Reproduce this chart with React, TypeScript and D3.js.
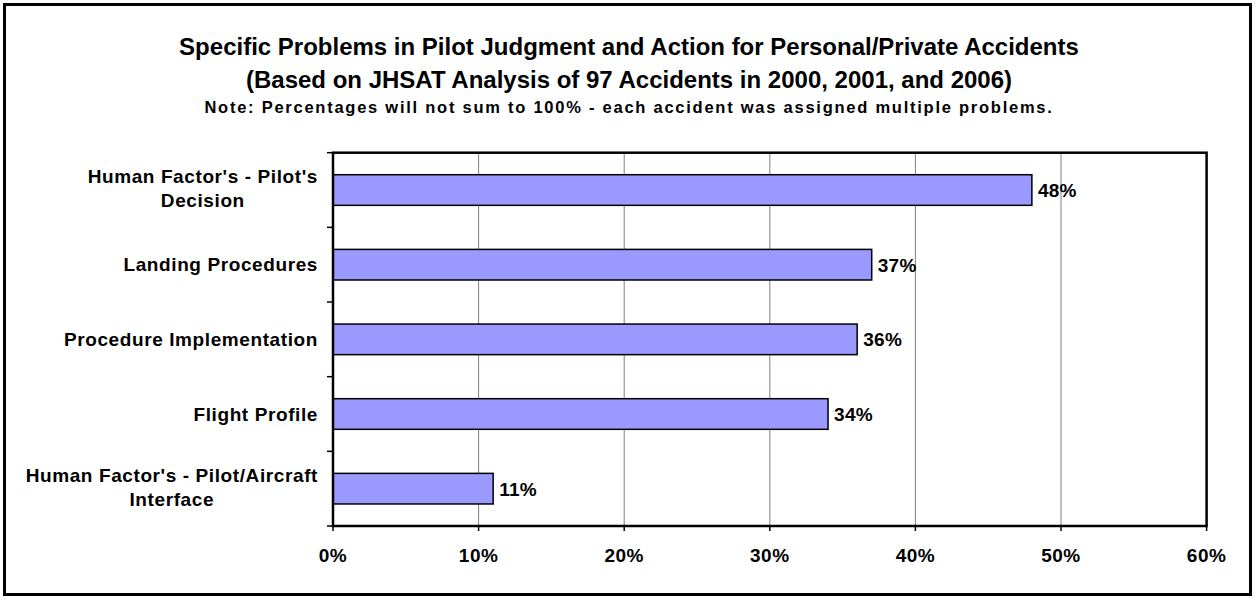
import React, { useLayoutEffect, useRef, useState } from "react";
import * as d3 from "d3";

const categories: string[][] = [
  ["Human Factor's - Pilot's", "Decision"],
  ["Landing Procedures"],
  ["Procedure Implementation"],
  ["Flight Profile"],
  ["Human Factor's - Pilot/Aircraft", "Interface"],
];
const values: number[] = [0.48, 0.37, 0.36, 0.34, 0.11];
const xTicks: number[] = [0, 0.1, 0.2, 0.3, 0.4, 0.5, 0.6];
const titleLines: string[] = [
  "Specific Problems in Pilot Judgment and Action for Personal/Private Accidents",
  "(Based on JHSAT Analysis of 97 Accidents in 2000, 2001, and 2006)",
];
const note = "Note: Percentages will not sum to 100% - each accident was assigned multiple problems.";

const W = 1255;
const H = 598;
const FONT = "'Liberation Sans', Arial, sans-serif";

export default function App() {
  const left = 333;
  const right = 1206.6;
  const top = 152.7;
  const bottom = 526;
  const x = d3.scaleLinear().domain([0, 0.6]).range([left, right]);
  const y = d3
    .scaleBand<number>()
    .domain(categories.map((_, i) => i))
    .range([top, bottom])
    .paddingInner(0.59)
    .paddingOuter(0.295);
  const band = (bottom - top) / categories.length;
  const fmt = d3.format(".0%");
  const labelRight = 318;

  const firstLineRefs = useRef<(SVGTextElement | null)[]>([]);
  const [widths, setWidths] = useState<number[]>(categories.map(() => 0));
  useLayoutEffect(() => {
    const w = firstLineRefs.current.map((el) => (el ? el.getBBox().width : 0));
    setWidths(w);
  }, []);

  return (
    <svg
      width={W}
      height={H}
      style={{ position: "absolute", left: 0, top: 0, display: "block" }}
      fontFamily={FONT}
      fontWeight="bold"
    >
      <rect x={0} y={0} width={W} height={H} fill="#fff" />
      <rect x={4.5} y={4.5} width={1246} height={590} fill="none" stroke="#000" strokeWidth={3} />

      {titleLines.map((t, i) => (
        <text key={i} x={629} y={55 + i * 33} textAnchor="middle" fontSize={24} fill="#000">
          {t}
        </text>
      ))}
      <text x={629} y={112.7} textAnchor="middle" fontSize={16.5} letterSpacing={1.75} fill="#000">
        {note}
      </text>

      {/* gridlines */}
      {xTicks.slice(1, -1).map((t) => (
        <line key={t} x1={x(t)} x2={x(t)} y1={top} y2={bottom} stroke="#808080" strokeWidth={1} />
      ))}

      {/* bars */}
      {values.map((v, i) => (
        <rect
          key={i}
          x={x(0)}
          y={y(i)}
          width={x(v) - x(0)}
          height={y.bandwidth()}
          fill="#9999FF"
          stroke="#000"
          strokeWidth={1.5}
        />
      ))}

      {/* plot border */}
      <rect x={left} y={top} width={right - left} height={bottom - top} fill="none" stroke="#000" strokeWidth={2.5} />

      {/* y ticks */}
      {d3.range(categories.length + 1).map((i) => (
        <line key={i} x1={left - 6} x2={left} y1={top + i * band} y2={top + i * band} stroke="#000" strokeWidth={1.5} />
      ))}
      {/* x ticks */}
      {xTicks.map((t) => (
        <line key={t} x1={x(t)} x2={x(t)} y1={bottom} y2={bottom + 5} stroke="#000" strokeWidth={1.5} />
      ))}
      {xTicks.map((t) => (
        <text key={t} x={x(t)} y={561.5} textAnchor="middle" fontSize={19} letterSpacing={0.5} fill="#000">
          {fmt(t)}
        </text>
      ))}

      {/* category labels */}
      {categories.map((lines, i) => {
        const cy = (y(i) as number) + y.bandwidth() / 2;
        const lh = 24.3;
        if (lines.length === 1) {
          return (
            <text
              key={i}
              ref={(el) => {
                firstLineRefs.current[i] = el;
              }}
              x={labelRight}
              y={cy + 6.7}
              textAnchor="end"
              fontSize={19}
              letterSpacing={0.6}
              fill="#000"
            >
              {lines[0]}
            </text>
          );
        }
        const w = widths[i];
        return (
          <g key={i}>
            <text
              ref={(el) => {
                firstLineRefs.current[i] = el;
              }}
              x={labelRight}
              y={cy + 5.2 - lh / 2}
              textAnchor="end"
              fontSize={19}
              letterSpacing={0.6}
              fill="#000"
            >
              {lines[0]}
            </text>
            <text
              x={labelRight - w / 2}
              y={cy + 5.2 + lh / 2}
              textAnchor="middle"
              fontSize={19}
              letterSpacing={0.6}
              fill="#000"
            >
              {lines[1]}
            </text>
          </g>
        );
      })}

      {/* value labels */}
      {values.map((v, i) => (
        <text
          key={i}
          x={x(v) + 6}
          y={(y(i) as number) + y.bandwidth() / 2 + 7}
          fontSize={19}
          letterSpacing={0.3}
          fill="#000"
        >
          {fmt(v)}
        </text>
      ))}
    </svg>
  );
}
